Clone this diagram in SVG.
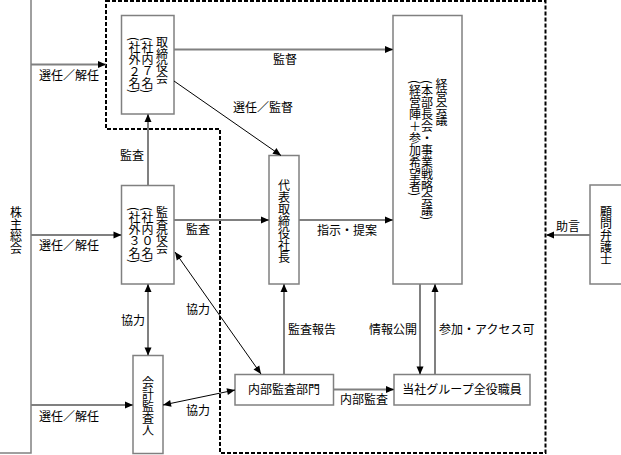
<svg xmlns="http://www.w3.org/2000/svg" width="621" height="455" viewBox="0 0 621 455">
<style>
text{font-family:"Noto Sans CJK JP","Noto Sans CJK SC",sans-serif;font-size:12px;fill:#000}
.v{writing-mode:vertical-rl}
.box{fill:#fff;stroke:#808080;stroke-width:1.5}
.ln{fill:none;stroke:#808080;stroke-width:2}
.dg{fill:none;stroke:#000;stroke-width:1}
.dash{fill:none;stroke:#000;stroke-width:2;stroke-dasharray:4 2}
</style>
<defs>
<marker id="ah" markerUnits="userSpaceOnUse" markerWidth="10" markerHeight="10" viewBox="0 0 10 10" refX="9" refY="5" orient="auto-start-reverse">
<path d="M1,1.5 L9,5 L1,8.5 Z" fill="#000"/>
</marker>
</defs>
<rect width="621" height="455" fill="#fff"/>
<path class="dash" d="M106,1 H545.5 V453 H220 V129 H106 Z"/>
<g id="shareholders"><rect class="box" x="-1" y="-1" width="32" height="454"/><text class="v" x="16" y="206">株主総会</text></g>
<g id="board"><rect class="box" x="121.5" y="15.5" width="52.5" height="98.5"/>
<text class="v" x="162" y="36">取締役会</text><text class="v" x="147.5" y="37">(社内７名)</text><text class="v" x="134.5" y="37">(社外２名)</text></g>
<g id="auditboard"><rect class="box" x="121.5" y="185.5" width="52.5" height="98.5"/>
<text class="v" x="162" y="206">監査役会</text><text class="v" x="147.5" y="207">(社内０名)</text><text class="v" x="134.5" y="207">(社外３名)</text></g>
<g id="accountant"><rect class="box" x="133" y="355.5" width="30" height="98"/><text class="v" x="148" y="376">会計監査人</text></g>
<g id="president"><rect class="box" x="269" y="155.5" width="30" height="128.5"/><text class="v" x="284" y="179">代表取締役社長</text></g>
<g id="mgmt"><rect class="box" x="393" y="15.5" width="69" height="268.5"/>
<text class="v" x="441.5" y="78">経営会議</text><text class="v" x="427" y="80">(本部長会・事業戦略会議)</text><text class="v" x="415" y="80">(経営陣＋参加希望者)</text></g>
<g id="lawyer"><rect class="box" x="590" y="185" width="33" height="99"/><text class="v" x="606" y="205">顧問弁護士</text></g>
<g id="internal"><rect class="box" x="235" y="374.5" width="98.5" height="30.5"/><text x="284" y="394" text-anchor="middle">内部監査部門</text></g>
<g id="staff"><rect class="box" x="394" y="374.5" width="136" height="30.5"/><text x="462" y="394" text-anchor="middle">当社グループ全役職員</text></g>
<g id="connectors">
<path class="ln" d="M31,64.5 H106" marker-end="url(#ah)"/>
<path class="ln" d="M31,235 H121.5" marker-end="url(#ah)"/>
<path class="ln" d="M31,405 H133" marker-end="url(#ah)"/>
<path class="ln" d="M174,49.5 H393" marker-end="url(#ah)"/>
<path class="dg" d="M174,81 L281,155.5" marker-end="url(#ah)"/>
<path class="ln" d="M148,185.5 V114" marker-end="url(#ah)"/>
<path class="ln" d="M174,220 H269" marker-end="url(#ah)"/>
<path class="ln" d="M299,220 H393" marker-end="url(#ah)"/>
<path class="ln" d="M148,284 V355.5" marker-start="url(#ah)" marker-end="url(#ah)"/>
<path class="dg" d="M175,252 L261,374" marker-start="url(#ah)" marker-end="url(#ah)"/>
<path class="dg" d="M163,405 L235,390" marker-start="url(#ah)" marker-end="url(#ah)"/>
<path class="ln" d="M284,374.5 V284" marker-end="url(#ah)"/>
<path class="ln" d="M333.5,389.5 H394" marker-end="url(#ah)"/>
<path class="ln" d="M420,284 V374.5" marker-end="url(#ah)"/>
<path class="ln" d="M435,374.5 V284" marker-end="url(#ah)"/>
<path class="ln" d="M590,235 H546" marker-end="url(#ah)"/>
<text x="39" y="80">選任／解任</text>
<text x="39" y="250">選任／解任</text>
<text x="39" y="421">選任／解任</text>
<text x="273" y="64">監督</text>
<text x="233" y="112">選任／監督</text>
<text x="120" y="160">監査</text>
<text x="186" y="234">監査</text>
<text x="317" y="235">指示・提案</text>
<text x="121" y="325">協力</text>
<text x="186" y="314">協力</text>
<text x="186" y="415">協力</text>
<text x="288" y="334">監査報告</text>
<text x="369" y="334">情報公開</text>
<text x="439" y="334">参加・アクセス可</text>
<text x="340" y="404">内部監査</text>
<text x="556" y="231">助言</text>
</g>
</svg>
